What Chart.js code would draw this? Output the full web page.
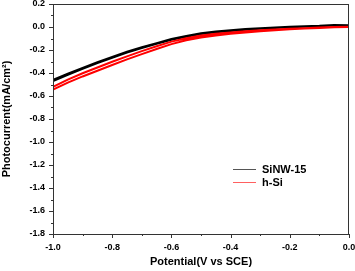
<!DOCTYPE html>
<html>
<head>
<meta charset="utf-8">
<script src="https://cdn.jsdelivr.net/npm/chart.js@4/dist/chart.umd.min.js"></script>
<style>
  html, body { margin: 0; padding: 0; background: #fff; }
  #wrap { width: 355px; height: 271px; }
</style>
</head>
<body>
<div id="wrap"><canvas id="cvChart"></canvas></div>
<script>
// potential sweep (V vs SCE)
const potential = [-1.0, -0.95, -0.9, -0.85, -0.8, -0.75, -0.7, -0.65, -0.6, -0.55, -0.5,
                   -0.45, -0.4, -0.35, -0.3, -0.25, -0.2, -0.15, -0.1, -0.05, 0.0];
// SiNW-15, forward and reverse scan (mA/cm2)
const sinwForward  = [-0.46, -0.405, -0.355, -0.305, -0.26, -0.215, -0.175, -0.14, -0.105, -0.078, -0.055,
                      -0.04, -0.028, -0.018, -0.01, -0.004, 0.002, 0.007, 0.011, 0.018, 0.016];
const sinwBackward = [-0.47, -0.415, -0.363, -0.313, -0.268, -0.223, -0.183, -0.147, -0.112, -0.085, -0.062,
                      -0.046, -0.034, -0.024, -0.016, -0.009, -0.003, 0.002, 0.007, 0.012, 0.012];
// h-Si, forward and reverse scan (mA/cm2)
const hsiForward   = [-0.52, -0.458, -0.402, -0.352, -0.302, -0.255, -0.21, -0.167, -0.127, -0.097, -0.074,
                      -0.059, -0.047, -0.037, -0.029, -0.021, -0.015, -0.01, -0.005, 0.0, 0.003];
const hsiBackward  = [-0.545, -0.484, -0.43, -0.38, -0.33, -0.282, -0.236, -0.191, -0.149, -0.116, -0.092,
                      -0.074, -0.059, -0.047, -0.037, -0.028, -0.02, -0.014, -0.008, -0.003, 0.0];

const xTicks = [-1.0, -0.8, -0.6, -0.4, -0.2, 0.0];
const yTicks = [0.2, 0.0, -0.2, -0.4, -0.6, -0.8, -1.0, -1.2, -1.4, -1.6, -1.8];

function loop(fw, bw) {
    const pts = potential.map((x, i) => ({ x: x, y: fw[i] }));
    for (let i = potential.length - 1; i >= 0; i--) pts.push({ x: potential[i], y: bw[i] });
    return pts;
}

const FONT = 'Liberation Sans, Arial, sans-serif';

function isMajor(v, list) {
    return list.some(t => Math.abs(t - v) < 1e-6);
}

// outward ticks (major + minor), box frame and legend
const decorPlugin = {
    id: 'decor',
    afterDraw(chart) {
        const c = chart.ctx;
        const a = chart.chartArea;
        const xs = chart.scales.x, ys = chart.scales.y;
        c.save();
        c.strokeStyle = '#333';
        c.lineWidth = 1;
        c.strokeRect(a.left + 0.5, a.top + 0.5, a.right - a.left - 1, a.bottom - a.top);
        c.beginPath();
        xs.ticks.forEach(t => {
            const px = Math.round(xs.getPixelForValue(t.value)) + 0.5;
            const len = isMajor(t.value, xTicks) ? 4 : 2;
            c.moveTo(px, a.bottom);
            c.lineTo(px, a.bottom + len);
        });
        ys.ticks.forEach(t => {
            const py = Math.round(ys.getPixelForValue(t.value)) + 0.5;
            const len = isMajor(t.value, yTicks) ? 4 : 2;
            c.moveTo(a.left, py);
            c.lineTo(a.left - len, py);
        });
        c.stroke();

        // legend
        const items = [
            { label: 'SiNW-15', color: '#555555', y: 169 },
            { label: 'h-Si', color: '#ff6060', y: 182 }
        ];
        c.font = 'bold 11px ' + FONT;
        c.textBaseline = 'middle';
        c.textAlign = 'left';
        items.forEach(it => {
            c.strokeStyle = it.color;
            c.lineWidth = 1;
            c.beginPath();
            c.moveTo(233, it.y + 0.5);
            c.lineTo(256, it.y + 0.5);
            c.stroke();
            c.fillStyle = '#000';
            c.fillText(it.label, 262, it.y + 1);
        });
        c.restore();
    }
};

const ctx = document.getElementById('cvChart').getContext('2d');
new Chart(ctx, {
    type: 'scatter',
    data: {
        datasets: [
            {
                label: 'h-Si',
                data: loop(hsiForward, hsiBackward),
                borderColor: '#ff0000',
                borderWidth: 2,
                showLine: true,
                pointRadius: 0,
                tension: 0
            },
            {
                label: 'SiNW-15',
                data: loop(sinwForward, sinwBackward),
                borderColor: '#000000',
                borderWidth: 2,
                showLine: true,
                pointRadius: 0,
                tension: 0
            }
        ]
    },
    options: {
        responsive: true,
        maintainAspectRatio: false,
        animation: false,
        layout: { padding: { top: 4, right: 6, left: 0, bottom: 0 } },
        plugins: {
            legend: { display: false },
            tooltip: { enabled: false }
        },
        scales: {
            x: {
                type: 'linear',
                min: -1.0,
                max: 0.0,
                grid: { display: false, drawTicks: false },
                border: { display: false },
                ticks: {
                    stepSize: 0.1,
                    padding: 8,
                    maxRotation: 0,
                    autoSkip: false,
                    color: '#000',
                    font: { family: FONT, size: 9, weight: 'bold' },
                    callback: v => isMajor(v, xTicks) ? v.toFixed(1) : ''
                },
                title: {
                    display: true,
                    text: 'Potential(V vs SCE)',
                    color: '#000',
                    font: { family: FONT, size: 11, weight: 'bold' },
                    padding: { top: 5, bottom: 2 }
                },
                afterFit: s => {
                    s.height = 37;
                    s.paddingLeft = 0;
                    s.paddingRight = 0;
                }
            },
            y: {
                min: -1.8,
                max: 0.2,
                grid: { display: false, drawTicks: false },
                border: { display: false },
                ticks: {
                    stepSize: 0.1,
                    padding: 8,
                    autoSkip: false,
                    color: '#000',
                    font: { family: FONT, size: 9, weight: 'bold' },
                    callback: v => isMajor(v, yTicks) ? v.toFixed(1) : ''
                },
                title: {
                    display: true,
                    text: 'Photocurrent(mA/cm²)',
                    color: '#000',
                    font: { family: FONT, size: 11, weight: 'bold' },
                    padding: { top: 0, bottom: 2 }
                },
                afterFit: s => {
                    s.width = 53;
                    s.paddingTop = 0;
                    s.paddingBottom = 0;
                }
            }
        }
    },
    plugins: [decorPlugin]
});
</script>
</body>
</html>
